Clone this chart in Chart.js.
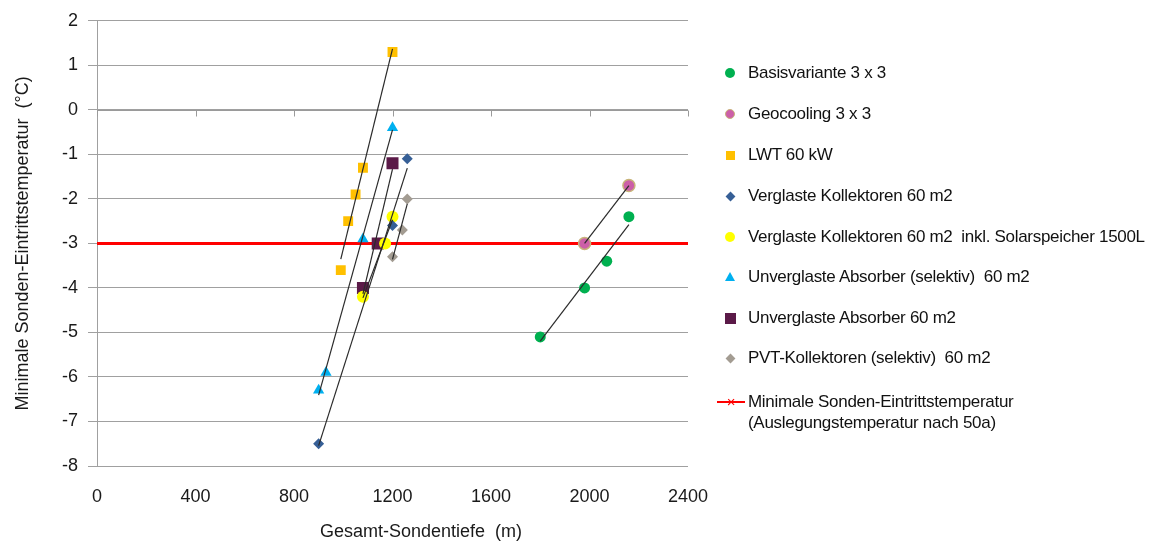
<!DOCTYPE html>
<html>
<head>
<meta charset="utf-8">
<script src="https://cdn.jsdelivr.net/npm/chart.js@4.4.1/dist/chart.umd.min.js"></script>
<style>
  html, body { margin: 0; padding: 0; background: #fff; }
  #wrap { position: relative; width: 1174px; height: 545px; }
  #legend { position: absolute; left: 0; top: 0; font-family: "Liberation Sans", Arial, sans-serif; font-size: 17px; color: #111; letter-spacing: -0.3px; }
  .item { position: absolute; left: 748px; white-space: pre; line-height: 21px; }
  .mk { position: absolute; box-sizing: border-box; }
  #xtitle { position: absolute; left: 320px; width: 200px; top: 520px; text-align: center; font-family: "Liberation Sans", Arial, sans-serif; font-size: 18px; color: #1a1a1a; white-space: pre; line-height: 22px; }
</style>
</head>
<body>
<div id="wrap">
  <canvas id="c" width="1174" height="545"></canvas>
  <div id="legend"></div>
  <div id="xtitle"></div>
</div>
<script>
// Messwerte: Gesamt-Sondentiefe (m) / minimale Sonden-Eintrittstemperatur (°C)
const basisX = [1800, 1980, 2070, 2160];
const basisY = [-5.1, -4.0, -3.4, -2.4];
const geoX = [1980, 2160];
const geoY = [-3.0, -1.7];
const lwtX = [990, 1020, 1050, 1080, 1200];
const lwtY = [-3.6, -2.5, -1.9, -1.3, 1.3];
const vkX = [900, 1200, 1260];
const vkY = [-7.5, -2.6, -1.1];
const vksX = [1080, 1170, 1200];
const vksY = [-4.2, -3.0, -2.4];
const uasX = [900, 930, 1080, 1200];
const uasY = [-6.3, -5.9, -2.9, -0.4];
const uaX = [1080, 1140, 1200];
const uaY = [-4.0, -3.0, -1.2];
const pvtX = [1200, 1240, 1260];
const pvtY = [-3.3, -2.7, -2.0];

const grenzX = [0, 2400];
const grenzY = [-3, -3];

const xTicks = [0, 400, 800, 1200, 1600, 2000, 2400];
const yTicks = [2, 1, 0, -1, -2, -3, -4, -5, -6, -7, -8];

const xTitel = "Gesamt-Sondentiefe  (m)";
const yTitel = "Minimale Sonden-Eintrittstemperatur  (°C)";

const FONT = '"Liberation Sans", Arial, sans-serif';

const serien = [
  { label: "Basisvariante 3 x 3", x: basisX, y: basisY, style: "circle", r: 5.5, fill: "#00b050", stroke: "#00b050" },
  { label: "Geocooling 3 x 3", x: geoX, y: geoY, style: "circle", r: 6, fill: "#cc5fa8", stroke: "#c8b47a" },
  { label: "LWT 60 kW", x: lwtX, y: lwtY, style: "rect", r: 7, fill: "#ffc000", stroke: "#ffc000" },
  { label: "Verglaste Kollektoren 60 m2", x: vkX, y: vkY, style: "rectRot", r: 5.5, fill: "#365f96", stroke: "#365f96" },
  { label: "Verglaste Kollektoren 60 m2  inkl. Solarspeicher 1500L", x: vksX, y: vksY, style: "circle", r: 6, fill: "#ffff00", stroke: "#ffff00" },
  { label: "Unverglaste Absorber (selektiv)  60 m2", x: uasX, y: uasY, style: "triangle", r: 6.5, fill: "#00b0f0", stroke: "#00b0f0" },
  { label: "Unverglaste Absorber 60 m2", x: uaX, y: uaY, style: "rect", r: 8.5, fill: "#5b1a48", stroke: "#5b1a48" },
  { label: "PVT-Kollektoren (selektiv)  60 m2", x: pvtX, y: pvtY, style: "rectRot", r: 5.5, fill: "#a39c92", stroke: "#a39c92" },
];

function pts(xs, ys) {
  return xs.map((x, i) => ({ x, y: ys[i] }));
}

// lineare Trendlinie (kleinste Quadrate) über den Bereich der Serie
function trend(xs, ys) {
  const n = xs.length;
  const mx = xs.reduce((a, b) => a + b, 0) / n;
  const my = ys.reduce((a, b) => a + b, 0) / n;
  let sxy = 0, sxx = 0;
  for (let i = 0; i < n; i++) {
    sxy += (xs[i] - mx) * (ys[i] - my);
    sxx += (xs[i] - mx) * (xs[i] - mx);
  }
  const k = sxy / sxx;
  const x0 = Math.min(...xs), x1 = Math.max(...xs);
  return [{ x: x0, y: my + k * (x0 - mx) }, { x: x1, y: my + k * (x1 - mx) }];
}

const datasets = [];
serien.forEach((s) => {
  datasets.push({
    label: s.label + " Trend",
    data: trend(s.x, s.y),
    showLine: true,
    borderColor: "#2a2a2a",
    borderWidth: 1.2,
    pointRadius: 0,
    order: 0,
  });
});
serien.forEach((s) => {
  datasets.push({
    label: s.label,
    data: pts(s.x, s.y),
    pointStyle: s.style,
    pointRadius: s.r,
    backgroundColor: s.fill,
    borderColor: s.stroke,
    borderWidth: s.stroke === s.fill ? 0 : 1.5,
    order: 1,
  });
});
datasets.push({
  label: "Minimale Sonden-Eintrittstemperatur",
  data: pts(grenzX, grenzY),
  showLine: true,
  borderColor: "#ff0000",
  borderWidth: 3,
  pointRadius: 0,
  order: 2,
});

// x-Achse kreuzt bei 0 (wie im Original), mit Teilstrichen nach unten
const zeroAxis = {
  id: "zeroAxis",
  beforeDatasetsDraw(chart) {
    const { ctx, chartArea, scales } = chart;
    const y = Math.round(scales.y.getPixelForValue(0)) + 0.5;
    ctx.save();
    ctx.strokeStyle = "#9a9a9a";
    ctx.lineWidth = 1;
    ctx.beginPath();
    ctx.moveTo(chartArea.left, y);
    ctx.lineTo(chartArea.right, y);
    xTicks.forEach((v) => {
      const x = Math.round(scales.x.getPixelForValue(v)) + 0.5;
      ctx.moveTo(x, y);
      ctx.lineTo(x, y + 6);
    });
    ctx.stroke();
    ctx.restore();
  },
};

new Chart(document.getElementById("c"), {
  type: "scatter",
  data: { datasets },
  plugins: [zeroAxis],
  options: {
    responsive: false,
    animation: false,
    layout: { padding: { top: 20, right: 486, left: 8, bottom: 0 } },
    plugins: { legend: { display: false }, tooltip: { enabled: false } },
    scales: {
      x: {
        type: "linear",
        min: 0,
        max: 2400,
        afterBuildTicks: (s) => { s.ticks = xTicks.map((v) => ({ value: v })); },
        afterFit: (s) => { s.height = 79; },
        grid: { display: false, drawTicks: false },
        border: { display: false },
        ticks: { color: "#1a1a1a", font: { family: FONT, size: 18 }, padding: 20, callback: (v) => String(v) },
      },
      y: {
        type: "linear",
        min: -8,
        max: 2,
        afterBuildTicks: (s) => { s.ticks = yTicks.map((v) => ({ value: v })); },
        afterFit: (s) => { s.width = 89; },
        grid: { color: "#a0a0a0", lineWidth: 1, tickLength: 9 },
        border: { display: true, color: "#a0a0a0" },
        ticks: { color: "#1a1a1a", font: { family: FONT, size: 18 }, padding: 10, callback: (v) => String(v) },
        title: { display: true, text: yTitel, color: "#1a1a1a", font: { family: FONT, size: 18 }, padding: { bottom: 4 } },
      },
    },
  },
});

document.getElementById("xtitle").textContent = xTitel;

// Legende rechts
const legend = document.getElementById("legend");
const rowY = [73, 114, 155, 196, 237, 277, 318, 358, 402];
function marker(s, cy) {
  const m = document.createElement("div");
  m.className = "mk";
  const cx = 730;
  if (s.style === "circle") {
    const d = 10;
    Object.assign(m.style, { left: cx - d / 2 + "px", top: cy - d / 2 + "px", width: d + "px", height: d + "px", borderRadius: "50%", background: s.fill, border: s.stroke !== s.fill ? "1.5px solid " + s.stroke : "none" });
  } else if (s.style === "rect") {
    const d = s.r > 7 ? 11 : 9;
    Object.assign(m.style, { left: cx - d / 2 + "px", top: cy - d / 2 + "px", width: d + "px", height: d + "px", background: s.fill });
  } else if (s.style === "rectRot") {
    const d = 7;
    Object.assign(m.style, { left: cx - d / 2 + "px", top: cy - d / 2 + "px", width: d + "px", height: d + "px", background: s.fill, transform: "rotate(45deg)" });
  } else if (s.style === "triangle") {
    Object.assign(m.style, { left: cx - 5 + "px", top: cy - 5 + "px", width: 0, height: 0, borderLeft: "5px solid transparent", borderRight: "5px solid transparent", borderBottom: "9px solid " + s.fill });
  }
  legend.appendChild(m);
}
serien.forEach((s, i) => {
  marker(s, rowY[i]);
  const t = document.createElement("div");
  t.className = "item";
  t.style.top = rowY[i] - 11 + "px";
  t.textContent = s.label;
  legend.appendChild(t);
});
// Grenzlinie im Legendeneintrag
const ly = rowY[8];
const lineMk = document.createElement("div");
lineMk.className = "mk";
Object.assign(lineMk.style, { left: "717px", top: ly - 1 + "px", width: "28px", height: "2px", background: "#ff0000" });
legend.appendChild(lineMk);
const cross = document.createElement("div");
cross.className = "mk";
Object.assign(cross.style, { left: "725px", top: ly - 8 + "px", width: "12px", height: "16px", color: "#ff0000", fontSize: "15px", lineHeight: "16px", textAlign: "center", fontFamily: FONT });
cross.textContent = "×";
legend.appendChild(cross);
const t2 = document.createElement("div");
t2.className = "item";
t2.style.top = ly - 11 + "px";
t2.innerHTML = "Minimale Sonden-Eintrittstemperatur<br>(Auslegungstemperatur nach 50a)";
legend.appendChild(t2);
</script>
</body>
</html>
